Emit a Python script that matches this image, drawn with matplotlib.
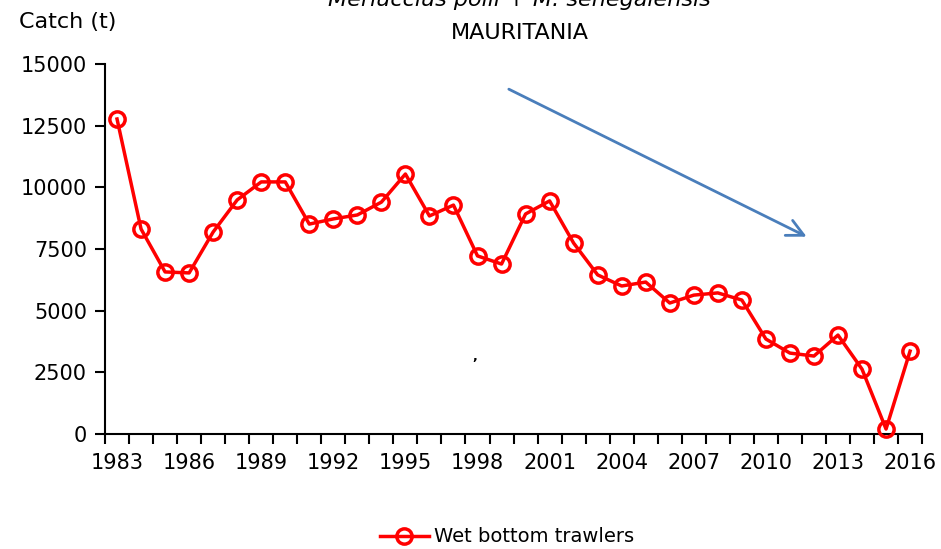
import matplotlib.pyplot as plt
from matplotlib.ticker import MultipleLocator

years = list(range(1983, 2017))
catch = [12770, 8310, 6570, 6530, 8190, 9490, 10220, 10220, 8510, 8720,
         8880, 9400, 10540, 8840, 9280, 7220, 6890, 8920, 9450, 7740,
         6450, 6000, 6160, 5310, 5630, 5720, 5430, 3850, 3280, 3160,
         4010, 2630, 200, 3360]
yticks = [0, 2500, 5000, 7500, 10000, 12500, 15000]
xtick_years = list(range(1983, 2017, 3))

# trend arrow drawn over the series (start, end)
trend_start = (1999.2, 14030)
trend_end = (2011.8, 7950)

plt.rcParams['font.family'] = ['DejaVu Sans']

fig = plt.figure(figsize=(9.41, 5.49), dpi=100)
ax = fig.add_axes([0.1116, 0.2095, 0.8683, 0.6739])

ax.plot(years, catch, color='#ff0000', lw=2.5, marker='o', ms=11,
        mfc='none', mec='#ff0000', mew=2.5, label='Wet bottom trawlers',
        clip_on=False, zorder=3)

ax.annotate('', xy=trend_end, xytext=trend_start,
            arrowprops=dict(arrowstyle='->', color='#4a7ebb', lw=2,
                            mutation_scale=30))
ax.text(1997.9, 3000, ',', fontsize=9, ha='center', fontweight='bold')

ax.set_xlim(1982.5, 2016.5)
ax.set_ylim(0, 15000)
ax.set_yticks(yticks)
ax.set_yticklabels([str(v) for v in yticks], fontsize=15)
ax.set_xticks(xtick_years)
ax.set_xticklabels([str(v) for v in xtick_years], fontsize=15)
ax.tick_params(axis='x', which='major', length=0, pad=14)
ax.xaxis.set_minor_locator(MultipleLocator(1, offset=0.5))
ax.tick_params(axis='x', which='minor', length=7, width=1.5, direction='out')
ax.tick_params(axis='y', length=7, width=1.5, direction='out', pad=6)

for side in ['top', 'right']:
    ax.spines[side].set_visible(False)
for side in ['left', 'bottom']:
    ax.spines[side].set_linewidth(1.5)

fig.text(0.552, 1.0, 'Merluccius polli + M. senegalensis', fontsize=16,
         style='italic', ha='center', va='center')
fig.text(0.552, 0.94, 'MAURITANIA', fontsize=16, ha='center', va='center')
fig.text(0.072, 0.96, 'Catch (t)', fontsize=16, ha='center', va='center')

ax.legend(loc='center', bbox_to_anchor=(0.539, 0.022),
          bbox_transform=fig.transFigure, frameon=False, fontsize=14,
          handlelength=2.5, handletextpad=0.3)

fig.savefig('out.png', dpi=100)
